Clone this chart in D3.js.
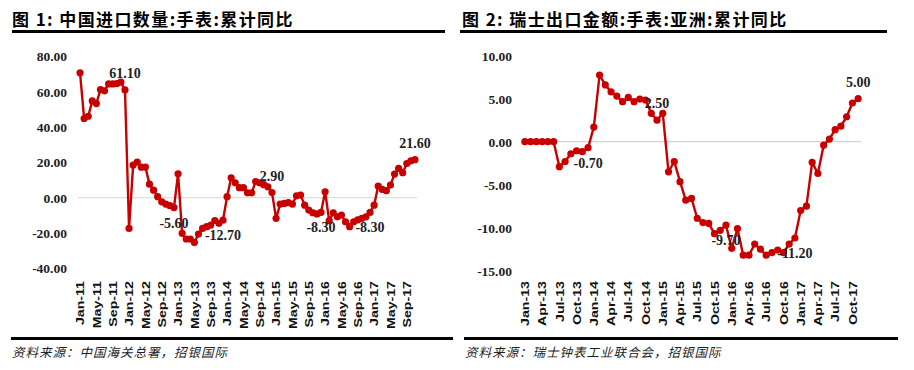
<!DOCTYPE html>
<html><head><meta charset="utf-8">
<script src="https://cdn.jsdelivr.net/npm/d3@7"></script>
<style>body{margin:0;background:#fff} svg{display:block}</style>
</head><body><svg id="c" width="914" height="370"></svg>
<script>
// ---------- DATA ----------
const leftTitle = "图 1:  中国进口数量:手表:累计同比";
const rightTitle = "图 2:  瑞士出口金额:手表:亚洲:累计同比";
const leftSource = "资料来源：中国海关总署，招银国际";
const rightSource = "资料来源：瑞士钟表工业联合会，招银国际";

const leftStart = "2011-01", leftEnd = "2017-11";
const rightStart = "2013-01", rightEnd = "2017-11";

const leftValues = [
  70.8, 44.9, 46.2, 54.9, 53.4, 61.3, 60.6, 64.5, 64.5, 64.7, 65.5, 61.1,
  -17.4, 18.5, 20.2, 17.3, 17.4, 7.7, 4.3, 0.6, -2.3, -3.6, -4.5, -5.6,
  13.6, -20.2, -23.4, -23.4, -25.4, -20.6, -17.4, -16.4, -15.5, -12.9, -14.5, -12.7,
  0.6, 11.3, 8.5, 5.7, 5.7, 2.8, 2.8, 9.2, 8.4, 7.4, 6.2, 2.9,
  -11.7, -3.6, -3.2, -2.8, -3.6, 1.1, 1.5, -4.2, -7.0, -8.5, -9.2, -8.3,
  3.4, -13.0, -8.5, -10.8, -9.8, -13.6, -16.4, -13.6, -12.6, -11.7, -10.8, -8.3,
  -4.2, 6.6, 4.7, 4.0, 7.2, 13.4, 16.6, 14.2, 19.4, 20.9, 21.6
];
const rightValues = [
  0, 0, 0, 0, 0, 0, -2.9, -2.3, -1.4, -1.05, -1.16, -0.7,
  1.7, 7.75, 6.6, 5.8, 5.3, 4.65, 5.15, 4.65, 4.96, 4.85, 3.3, 2.5,
  3.3, -3.5, -2.3, -4.65, -6.8, -6.6, -8.9, -9.4, -9.5, -10.7, -10.3, -9.7,
  -12.4, -10.1, -13.2, -13.2, -11.9, -12.5, -13.2, -12.9, -12.6, -12.9, -11.9, -11.2,
  -8.0, -7.5, -2.4, -3.7, -0.4, 0.3, 1.4, 1.8, 2.9, 4.5, 5.0
];

const leftTickLabels = ["Jan-11","May-11","Sep-11","Jan-12","May-12","Sep-12","Jan-13","May-13","Sep-13",
  "Jan-14","May-14","Sep-14","Jan-15","May-15","Sep-15","Jan-16","May-16","Sep-16","Jan-17","May-17","Sep-17"];
const rightTickLabels = ["Jan-13","Apr-13","Jul-13","Oct-13","Jan-14","Apr-14","Jul-14","Oct-14","Jan-15","Apr-15",
  "Jul-15","Oct-15","Jan-16","Apr-16","Jul-16","Oct-16","Jan-17","Apr-17","Jul-17","Oct-17"];

const leftYTicks = [80, 60, 40, 20, 0, -20, -40];
const rightYTicks = [10, 5, 0, -5, -10, -15];

const leftLabelIdx = [11, 23, 35, 47, 59, 71, 82];
const leftLabelSide = ["above","below","below","above","below","below","above"];
const rightLabelIdx = [11, 23, 35, 47, 58];
const rightLabelSide = ["below","above","below","below","above"];

// ---------- DRAW ----------
const svg = d3.select("#c");
const fmt = d3.formatLocale({decimal: ".", thousands: ",", grouping: [3], currency: ["", ""], minus: "-"}).format(".2f");
const monthFmt = d3.timeFormat("%b-%y");
const parseM = d3.timeParse("%Y-%m");
const RED = "#c80000";

function monthsBetween(a, b) {
  return d3.timeMonth.range(parseM(a), d3.timeMonth.offset(parseM(b), 1)).map(monthFmt);
}

function panel(cfg) {
  const cats = monthsBetween(cfg.start, cfg.end);
  const x = d3.scalePoint().domain(cats).range(cfg.xRange).padding(0.5);
  const y = d3.scaleLinear().domain(cfg.yDomain).range(cfg.yRange);
  const g = svg.append("g");

  // title + underline
  g.append("text").attr("x", cfg.titleX).attr("y", 26)
    .attr("font-family", "'Noto Sans CJK SC'").attr("font-weight", 700).attr("font-size", 17)
    .attr("letter-spacing", 1.4).attr("fill", "#000").text(cfg.title);
  g.append("line").attr("x1", cfg.ulX[0]).attr("x2", cfg.ulX[1]).attr("y1", 31.5).attr("y2", 31.5)
    .attr("stroke", "#000").attr("stroke-width", 3);
  // footer
  g.append("line").attr("x1", cfg.ftX[0]).attr("x2", cfg.ftX[1]).attr("y1", 338.5).attr("y2", 338.5)
    .attr("stroke", "#000").attr("stroke-width", 3);
  g.append("text").attr("x", cfg.ftX[0] + 1).attr("y", 357)
    .attr("font-family", "'Noto Sans CJK SC'").attr("font-style", "italic").attr("font-size", 12.5)
    .attr("letter-spacing", 1).attr("fill", "#222").text(cfg.source);

  // zero line
  g.append("line").attr("x1", cfg.xRange[0]).attr("x2", cfg.xRange[1]).attr("y1", y(0)).attr("y2", y(0))
    .attr("stroke", "#d4d4d4").attr("stroke-width", 1.2);

  // y axis
  const ya = g.append("g").attr("transform", `translate(${cfg.yAxisX},0)`)
    .call(d3.axisLeft(y).tickValues(cfg.yTicks).tickSize(0).tickPadding(0).tickFormat(fmt));
  ya.select(".domain").remove();
  ya.selectAll("text").attr("font-family", "'Liberation Serif'").attr("font-weight", 700)
    .attr("font-size", 13.5).attr("fill", "#222");

  // x axis
  const xa = g.append("g").attr("transform", `translate(0,${cfg.xAxisY})`)
    .call(d3.axisBottom(x).tickValues(cfg.xTicks).tickSize(0));
  xa.select(".domain").remove();
  xa.selectAll("text").attr("y", 0).attr("x", 0).attr("dy", "0.35em")
    .attr("text-anchor", "end").attr("transform", "rotate(-90) scale(1.35,1)")
    .attr("font-family", "'Liberation Sans'").attr("font-weight", 700).attr("font-size", 10.5).attr("fill", "#111");

  // line + markers
  const pts = cfg.values.map((v, i) => [x(cats[i]), y(v)]);
  g.append("path").attr("d", d3.line()(pts)).attr("fill", "none").attr("stroke", RED)
    .attr("stroke-width", 2.4).attr("stroke-linejoin", "round");
  g.selectAll("circle.m").data(pts).join("circle").attr("class", "m")
    .attr("cx", d => d[0]).attr("cy", d => d[1]).attr("r", 3.6).attr("fill", RED);

  // data labels
  cfg.labelIdx.forEach((idx, k) => {
    const up = cfg.labelSide[k] === "above";
    g.append("text").attr("x", x(cats[idx])).attr("y", y(cfg.values[idx]) + (up ? -17 : 15))
      .attr("dy", "0.35em").attr("text-anchor", "middle")
      .attr("font-family", "'Liberation Serif'").attr("font-weight", 700).attr("font-size", 14)
      .attr("fill", "#222").text(fmt(cfg.values[idx]));
  });
}

panel({
  title: leftTitle, source: leftSource, titleX: 12, ulX: [12, 445], ftX: [11, 453],
  start: leftStart, end: leftEnd, values: leftValues,
  xRange: [78, 417], yDomain: [-40, 80], yRange: [268.3, 56.6], yTicks: leftYTicks,
  yAxisX: 67, xAxisY: 281, xTicks: leftTickLabels,
  labelIdx: leftLabelIdx, labelSide: leftLabelSide
});
panel({
  title: rightTitle, source: rightSource, titleX: 462, ulX: [460, 887], ftX: [464, 898],
  start: rightStart, end: rightEnd, values: rightValues,
  xRange: [522, 861], yDomain: [-15, 10], yRange: [270.7, 55.7], yTicks: rightYTicks,
  yAxisX: 512, xAxisY: 281, xTicks: rightTickLabels,
  labelIdx: rightLabelIdx, labelSide: rightLabelSide
});
</script>
</body></html>
